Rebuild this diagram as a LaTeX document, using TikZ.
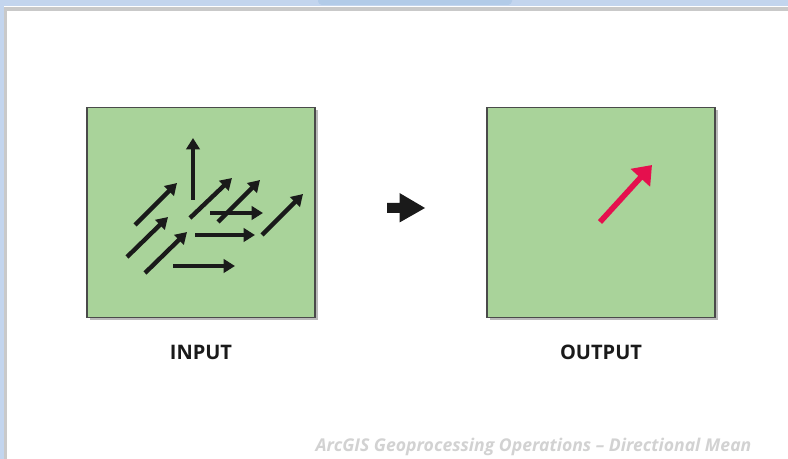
\documentclass[tikz,border=0pt]{standalone}
\usepackage{fontspec}
\setmainfont{Open Sans}
\usetikzlibrary{arrows.meta,positioning,shadows}
\definecolor{frameblue}{HTML}{C3D5EE}
\definecolor{tabblue}{HTML}{B2CBE8}
\definecolor{edgegray}{HTML}{C9C9C9}
\definecolor{cellgreen}{HTML}{A9D39A}
\definecolor{cellline}{HTML}{4A4A4A}
\definecolor{ink}{HTML}{1A1A1A}
\definecolor{meanred}{HTML}{E5104E}
\definecolor{footgray}{HTML}{D2D2D2}
\tikzset{
  cellbox/.style={draw=cellline,fill=cellgreen,line width=0.8pt,
                  minimum width=171pt,minimum height=158pt,inner sep=0pt,
                  drop shadow={shadow xshift=2pt,shadow yshift=-2pt,
                               fill=black!60,opacity=0.45}},
  celllabel/.style={font=\bfseries\fontsize{15}{18}\selectfont,text=ink,
                    inner sep=0pt},
  vecarr/.style={-{Triangle[length=8.5pt,width=10pt]},line width=3.3pt,
                 draw=ink},
  meanarr/.style={-{Triangle[length=13pt,width=19pt]},line width=4.2pt,
                  draw=meanred}
}
\begin{document}
\begin{tikzpicture}[x=0.75pt,y=-0.75pt]
  \useasboundingbox (0,0) rectangle (788,459);
  % window frame
  \fill[frameblue] (0,0) rectangle (788,459);
  \fill[tabblue,rounded corners=3pt] (318,-4) rectangle (512,5);
  \fill[edgegray] (4,6) rectangle (788,459);
  \fill[white] (4,6) rectangle (788,7);
  \fill[white] (7,11) rectangle (788,459);

  % input and output cells
  \node[cellbox] (input) at (201,212.5) {};
  \node[cellbox] (output) at (601,212.5) {};

  % step arrow between the cells
  \coordinate (step) at (387,208);
  \fill[ink] (step) ++(0,-5) -- ++(12.5,0) -- ++(0,-10) -- ++(25.5,15)
    -- ++(-25.5,14.5) -- ++(0,-9.5) -- ++(-12.5,0) -- cycle;

  % input vectors
  \foreach \sx/\sy/\ex/\ey in {193/200/193/138, 135/225/177/183,
      127/257/168/217, 145/273/187/232, 190/218/232/178, 218/222/260/180,
      210/213/263/213, 195/235/255/235, 173/266/235/266, 262/235/303/194}{
    \draw[vecarr] (\sx,\sy) -- (\ex,\ey);
  }

  % mean direction
  \draw[meanarr] (600,222) -- (652,165);

  % labels
  \node[celllabel,below=20pt of input] (inputlabel) {INPUT};
  \node[celllabel,below=20pt of output] (outputlabel) {OUTPUT};
  \node[font=\bfseries\itshape\fontsize{13.2}{15}\selectfont,text=footgray,
        inner sep=0pt] (caption) at (533.5,447)
    {ArcGIS Geoprocessing Operations -- Directional Mean};
\end{tikzpicture}
\end{document}
